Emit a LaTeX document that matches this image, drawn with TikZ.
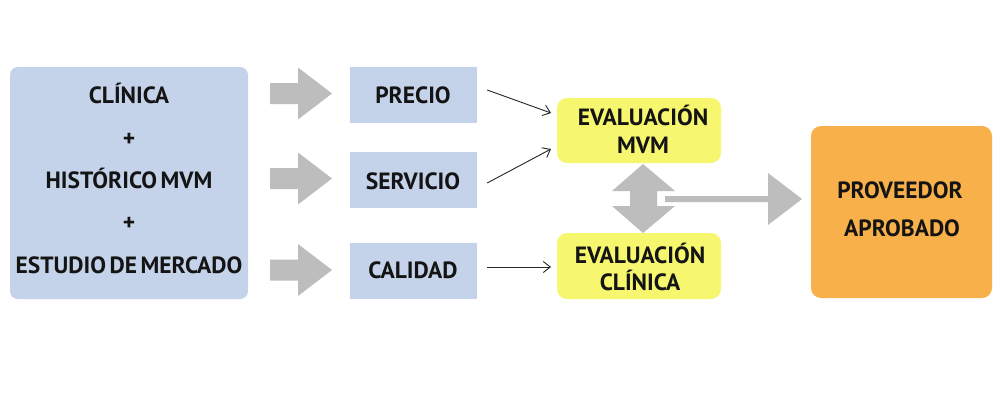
\documentclass[tikz,border=0pt]{standalone}
\usepackage{fontspec}
\setmainfont{PT Sans}
\usetikzlibrary{arrows.meta}
\definecolor{lblue}{HTML}{C5D3EA}
\definecolor{garrow}{HTML}{BDBDBD}
\definecolor{yel}{HTML}{F7F66F}
\definecolor{ora}{HTML}{F8B14A}
\newcommand\lblfont{\fontsize{23.5}{23.5}\selectfont\bfseries\spaceskip=0.15em\relax}
\begin{document}
\begin{tikzpicture}[x=1pt,y=-1pt,
  lbl/.style={font=\lblfont, text=black!92, anchor=base, inner sep=0pt},
  boxb/.style={fill=lblue, draw=none, inner sep=0pt},
  thin/.style={draw=black!85, line width=0.9pt, -{Straight Barb[length=7pt,width=11pt,line width=0.9pt]}}]
\useasboundingbox (0,0) rectangle (1000,400);
\fill[white] (0,0) rectangle (1000,400);
% boxes
\fill[lblue, rounded corners=8pt] (10,67) rectangle (248,299);
\node[boxb, minimum width=127pt, minimum height=56pt] (precio) at (413.5,95) {};
\node[boxb, minimum width=127pt, minimum height=56pt] (servicio) at (413.5,180) {};
\node[boxb, minimum width=127pt, minimum height=56pt] (calidad) at (413.5,270.5) {};
\fill[yel, rounded corners=10pt] (557,98) rectangle (721,163);
\fill[yel, rounded corners=10pt] (557,233) rectangle (721,299);
\fill[ora, rounded corners=10pt] (811,126) rectangle (992,298);
\coordinate (mvmw) at (551,113);
\coordinate (mvmw2) at (551,149);
\coordinate (cliw) at (551,267);
% texts
\node[lbl] (t1) at (129,103.5) {CLÍNICA};
\node[lbl] (t2) at (129,146) {+};
\node[lbl] (t3) at (129,188.5) {HISTÓRICO MVM};
\node[lbl] (t4) at (129,230) {+};
\node[lbl] (t5) at (129,273.5) {ESTUDIO DE MERCADO};
\node[lbl] at (413,103.3) {PRECIO};
\node[lbl] at (413,189) {SERVICIO};
\node[lbl] at (413,278.5) {CALIDAD};
\node[lbl] at (643,125.5) {EVALUACIÓN};
\node[lbl] at (643,153.5) {MVM};
\node[lbl] at (640,263) {EVALUACIÓN};
\node[lbl] at (640,290.5) {CLÍNICA};
\node[lbl] at (900,198.5) {PROVEEDOR};
\node[lbl] at (902,236.5) {APROBADO};
% gray block arrows
\foreach \c in {93.5,178.5,270}{
  \fill[garrow] (270,\c-10.5) -- (298,\c-10.5) -- (298,\c-26) -- (332,\c) -- (298,\c+26) -- (298,\c+10.5) -- (270,\c+10.5) -- cycle;
}
% double arrow
\fill[garrow] (643,164) -- (675,191) -- (657,191) -- (657,206) -- (675,206) -- (643,233) -- (612,206) -- (630,206) -- (630,191) -- (612,191) -- cycle;
% horizontal arrow
\fill[garrow] (665,196) -- (768,196) -- (768,173) -- (802,199) -- (768,225) -- (768,202) -- (665,202) -- cycle;
% thin arrows
\draw[thin] ([xshift=10pt,yshift=5pt]precio.east) -- (mvmw);
\draw[thin] ([xshift=10pt,yshift=-3pt]servicio.east) -- (mvmw2);
\draw[thin] ([xshift=10pt,yshift=3.5pt]calidad.east) -- (cliw);
\end{tikzpicture}
\end{document}
